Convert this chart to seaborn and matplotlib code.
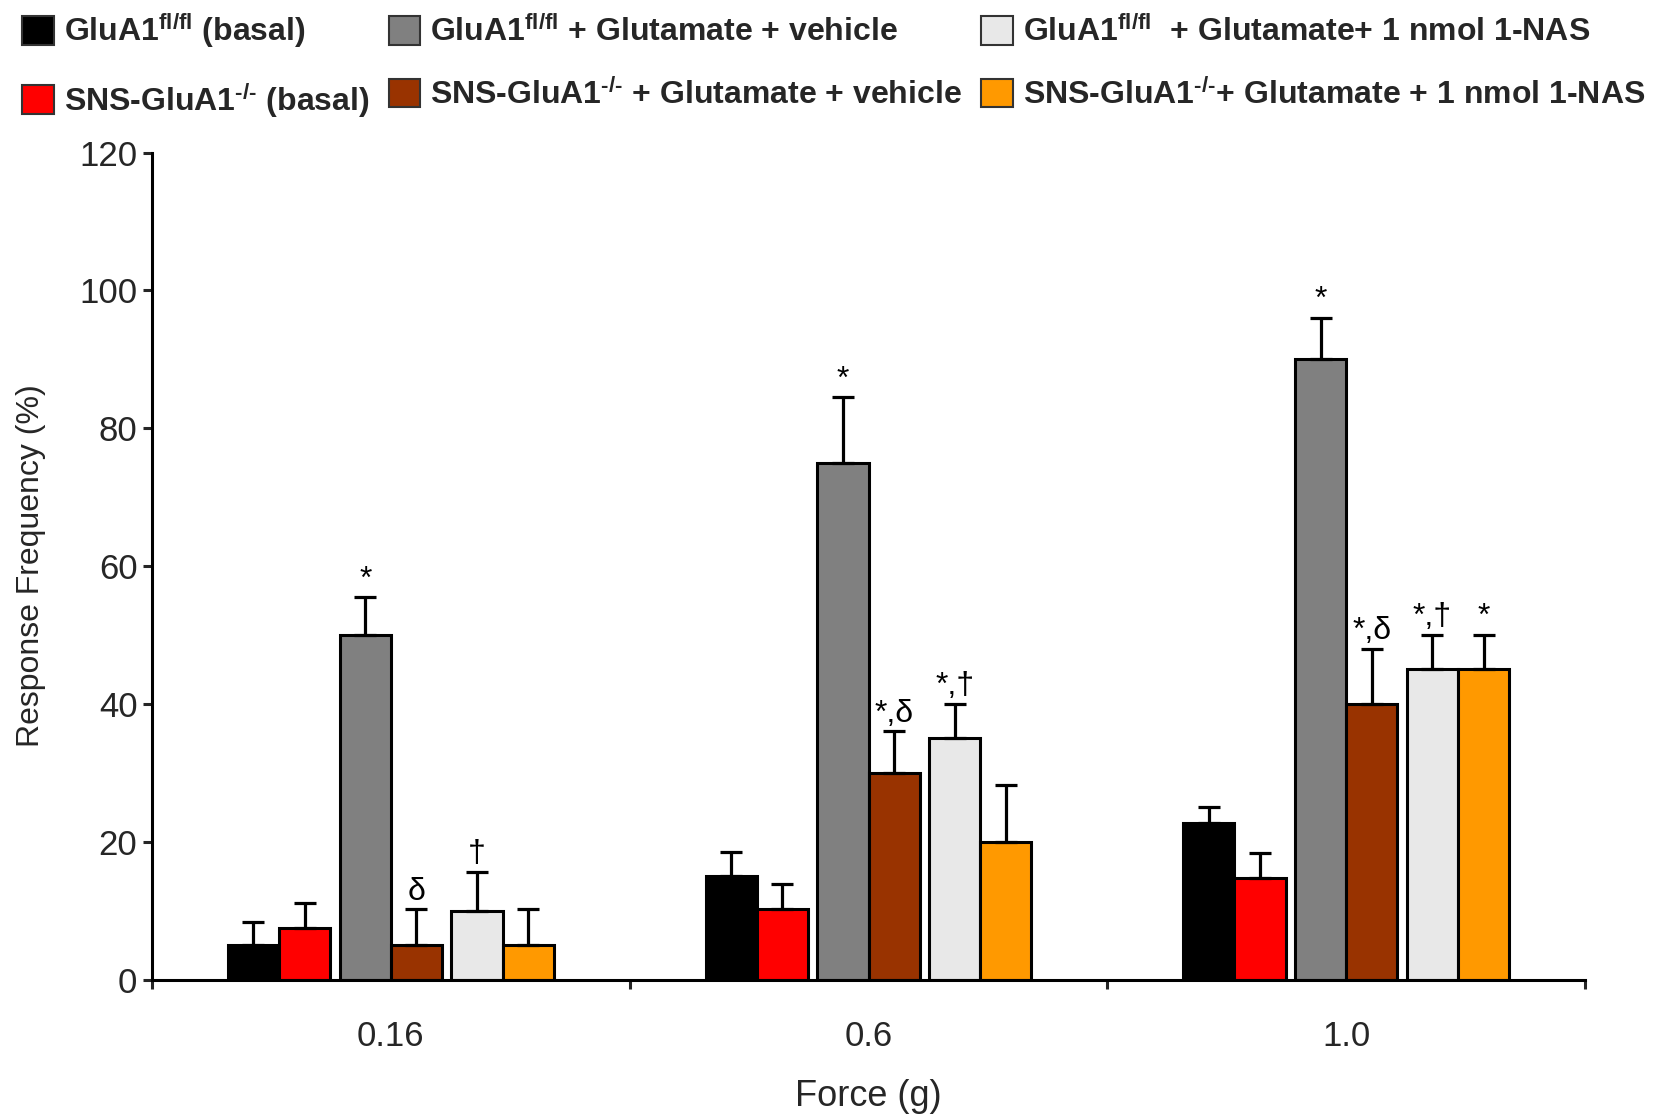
import numpy as np
import pandas as pd
import matplotlib
matplotlib.use("Agg")
import matplotlib.pyplot as plt
from matplotlib.patches import Patch
import seaborn as sns

# ---- data ----
forces = ["0.16", "0.6", "1.0"]
groups = [
    r"GluA1$^{fl/fl}$ (basal)",
    r"SNS-GluA1$^{\text{-/-}}$ (basal)",
    r"GluA1$^{fl/fl}$ + Glutamate + vehicle",
    r"SNS-GluA1$^{\text{-/-}}$ + Glutamate + vehicle",
    r"GluA1$^{fl/fl}$  + Glutamate+ 1 nmol 1-NAS",
    r"SNS-GluA1$^{\text{-/-}}$+ Glutamate + 1 nmol 1-NAS",
]
colors = ["#000000", "#FF0000", "#808080", "#993300", "#E8E8E8", "#FF9900"]

# mean response frequency (%) per group, one value per force
basal_fl   = [5.0, 15.0, 22.7]
basal_ko   = [7.5, 10.2, 14.8]
glu_fl     = [50.0, 75.0, 90.0]
glu_ko     = [5.0, 30.0, 40.0]
nas_fl     = [10.0, 35.0, 45.0]
nas_ko     = [5.0, 20.0, 45.0]
# SEM (upper error bars)
basal_fl_err = [3.3, 3.5, 2.4]
basal_ko_err = [3.6, 3.7, 3.6]
glu_fl_err   = [5.5, 9.5, 6.0]
glu_ko_err   = [5.2, 6.0, 8.0]
nas_fl_err   = [5.6, 5.0, 5.0]
nas_ko_err   = [5.2, 8.2, 5.0]
# significance marks
marks_basal_fl = ["", "", ""]
marks_basal_ko = ["", "", ""]
marks_glu_fl   = ["*", "*", "*"]
marks_glu_ko   = ["δ", "*,δ", "*,δ"]
marks_nas_fl   = ["†", "*,†", "*,†"]
marks_nas_ko   = ["", "", "*"]

means = [basal_fl, basal_ko, glu_fl, glu_ko, nas_fl, nas_ko]
errs = [basal_fl_err, basal_ko_err, glu_fl_err, glu_ko_err, nas_fl_err, nas_ko_err]
marks = [marks_basal_fl, marks_basal_ko, marks_glu_fl, marks_glu_ko, marks_nas_fl, marks_nas_ko]

# bar layout inside a group: three adjacent pairs with small gaps
bar_w = 0.107
pair_gap = 0.02
pair_centers = np.array([-1, 0, 1]) * (2 * bar_w + pair_gap)
offsets = np.concatenate([[c - bar_w / 2, c + bar_w / 2] for c in pair_centers])

rows = []
for gi, g in enumerate(groups):
    for fi, f in enumerate(forces):
        rows.append(dict(pos=round(fi + offsets[gi], 4), value=means[gi][fi],
                         err=errs[gi][fi], mark=marks[gi][fi], group=g))
df = pd.DataFrame(rows)

# ---- style ----
sns.set_style("ticks")
plt.rcParams["font.family"] = ["Liberation Sans", "DejaVu Sans"]
leg_family, leg_size = "Liberation Sans", 23
plt.rcParams["mathtext.fontset"] = "custom"
plt.rcParams["mathtext.rm"] = f"{leg_family}:bold"
plt.rcParams["mathtext.bf"] = f"{leg_family}:bold"
plt.rcParams["mathtext.it"] = f"{leg_family}:bold"
plt.rcParams["mathtext.default"] = "bf"

fig = plt.figure(figsize=(16.72, 11.16), dpi=100)
ax = fig.add_axes([0.0909, 0.1223, 0.8571, 0.7409])

sns.barplot(data=df, x="pos", y="value", hue="group", hue_order=groups,
            palette=colors, saturation=1, native_scale=True, dodge=False,
            width=1.0, errorbar=None, edgecolor="black", linewidth=2.2,
            legend=False, ax=ax, zorder=2)

ax.errorbar(df["pos"], df["value"], yerr=[np.zeros(len(df)), df["err"]],
            fmt="none", ecolor="black", elinewidth=2.3, capsize=8,
            capthick=2.3, zorder=3)

for _, r in df.iterrows():
    if r["mark"]:
        ax.text(r["pos"], r["value"] + r["err"] + 1.4, r["mark"],
                ha="center", va="baseline", fontsize=23, color="black")

ax.set_xlim(-0.5, 2.5)
ax.set_ylim(0, 120)
ax.set_yticks(np.arange(0, 121, 20))
ax.set_xticks(range(len(forces)))
ax.set_xticklabels(forces)
ax.set_xticks([-0.5, 0.5, 1.5, 2.5], minor=True)
ax.tick_params(axis="x", which="major", length=0, pad=29, labelsize=25)
ax.tick_params(axis="x", which="minor", length=6.5, width=2.2, direction="out")
ax.tick_params(axis="y", length=6.5, width=2.2, direction="out", pad=4,
               labelsize=25)
for s in ["top", "right"]:
    ax.spines[s].set_visible(False)
for s in ["left", "bottom"]:
    ax.spines[s].set_linewidth(2.2)
    ax.spines[s].set_color("black")

ax.set_xlabel("Force (g)", fontsize=26, labelpad=19)
ax.set_ylabel("Response Frequency (%)", fontsize=23, labelpad=24)

handles = [Patch(facecolor=c, edgecolor="#333333", linewidth=1.5) for c in colors]
fig.legend(handles, groups, loc="upper left", bbox_to_anchor=(0.0, 1.01),
           ncol=3, frameon=False, prop=dict(family=leg_family, size=leg_size,
                                            weight="bold"),
           handlelength=1.0, handleheight=1.0, handletextpad=0.3,
           columnspacing=0.6, labelspacing=0.95, borderaxespad=0.3)

fig.savefig("out.png", dpi=100)
